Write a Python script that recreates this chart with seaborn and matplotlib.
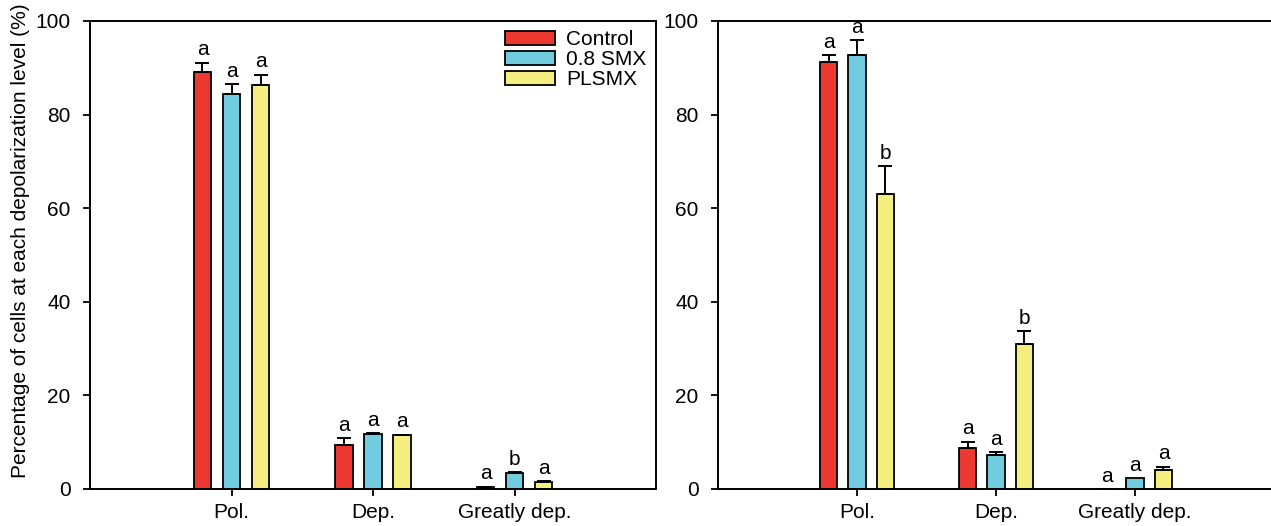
import matplotlib
matplotlib.use("Agg")
import matplotlib.pyplot as plt
import seaborn as sns
import pandas as pd

# =====================================================
# Données
# =====================================================

levels = ["Pol.", "Dep.", "Greatly dep."]
treatments = ["Control", "0.8 SMX", "PLSMX"]
colors = ["#EC3831", "#72CCDF", "#F5EF80"]

# panneau gauche
left_control = [89.0, 9.5, 0.35]
left_smx = [84.5, 11.7, 3.5]
left_plsmx = [86.4, 11.5, 1.6]
left_err_control = [2.1, 1.3, 0.1]
left_err_smx = [2.0, 0.2, 0.1]
left_err_plsmx = [2.1, 0.1, 0.1]
left_letters_control = ["a", "a", "a"]
left_letters_smx = ["a", "a", "b"]
left_letters_plsmx = ["a", "a", "a"]

# panneau droit
right_control = [91.2, 8.7, 0.0]
right_smx = [92.7, 7.3, 2.3]
right_plsmx = [63.0, 31.0, 4.1]
right_err_control = [1.5, 1.4, 0.0]
right_err_smx = [3.2, 0.5, 0.0]
right_err_plsmx = [6.0, 2.7, 0.7]
right_letters_control = ["a", "a", "a"]
right_letters_smx = ["a", "a", "a"]
right_letters_plsmx = ["b", "b", "a"]

yticks = [0, 20, 40, 60, 80, 100]


def make_frame(ctrl, smx, pls):
    rows = []
    for vals, trt in zip([ctrl, smx, pls], treatments):
        for lvl, v in zip(levels, vals):
            rows.append({"level": lvl, "treatment": trt, "value": v})
    return pd.DataFrame(rows)


# =====================================================
# Style
# =====================================================

sns.set_style("ticks")
plt.rcParams["font.family"] = ["Liberation Sans", "DejaVu Sans"]
plt.rcParams["text.color"] = "black"
plt.rcParams["axes.labelcolor"] = "black"
plt.rcParams["xtick.color"] = "black"
plt.rcParams["ytick.color"] = "black"

fig = plt.figure(figsize=(12.71, 5.26), dpi=100)
ax1 = fig.add_axes([90 / 1271, 37 / 526, 566 / 1271, 468 / 526])
ax2 = fig.add_axes([718 / 1271, 37 / 526, 556 / 1271, 468 / 526])

panels = [
    (ax1, make_frame(left_control, left_smx, left_plsmx),
     [left_err_control, left_err_smx, left_err_plsmx],
     [left_letters_control, left_letters_smx, left_letters_plsmx]),
    (ax2, make_frame(right_control, right_smx, right_plsmx),
     [right_err_control, right_err_smx, right_err_plsmx],
     [right_letters_control, right_letters_smx, right_letters_plsmx]),
]

for ax, df, errs, letters in panels:

    sns.barplot(
        data=df,
        x="level",
        y="value",
        hue="treatment",
        order=levels,
        hue_order=treatments,
        palette=colors,
        width=0.615,
        gap=0.38,
        saturation=1,
        edgecolor="black",
        linewidth=1.3,
        errorbar=None,
        legend=(ax is ax1),
        ax=ax
    )

    # barres d'erreur + lettres
    for cont, err, lets in zip(ax.containers, errs, letters):
        for bar, e, lt in zip(cont.patches, err, lets):
            x = bar.get_x() + bar.get_width() / 2
            h = bar.get_height()
            if e > 0:
                ax.errorbar(x, h, yerr=[[0], [e]], fmt="none", ecolor="black",
                            elinewidth=1.4, capsize=4.8, capthick=1.4, zorder=3)
            ax.annotate(lt, (x, h + e), xytext=(0, 2.5), textcoords="offset points",
                        ha="center", va="bottom", fontsize=15)

    ax.set_xlim(-1, 3)
    ax.set_ylim(0, 100)
    ax.set_yticks(yticks)
    ax.set_xlabel("")
    ax.set_ylabel("")
    ax.tick_params(axis="both", direction="out", length=5, width=1.3,
                   labelsize=15, color="black", labelcolor="black")
    ax.tick_params(axis="y", pad=9)
    ax.tick_params(axis="x", pad=5)
    for sp in ax.spines.values():
        sp.set_visible(True)
        sp.set_linewidth(1.4)
        sp.set_color("black")

ax2.spines["right"].set_visible(False)

ax1.set_ylabel("Percentage of cells at each depolarization level (%)",
               fontsize=15)
ax1.yaxis.set_label_coords(-0.106, 0.53)

leg = ax1.legend(
    loc="upper left",
    bbox_to_anchor=((505 - 90) / 566, (489 - 30) / 468),
    frameon=False,
    fontsize=15,
    handlelength=2.4,
    handleheight=0.65,
    handletextpad=0.55,
    labelspacing=0.05,
    borderpad=0,
    borderaxespad=0
)
for hnd in leg.legend_handles:
    hnd.set_edgecolor("black")
    hnd.set_linewidth(1.3)
leg.set_title(None)

fig.savefig("out.png", dpi=100)
